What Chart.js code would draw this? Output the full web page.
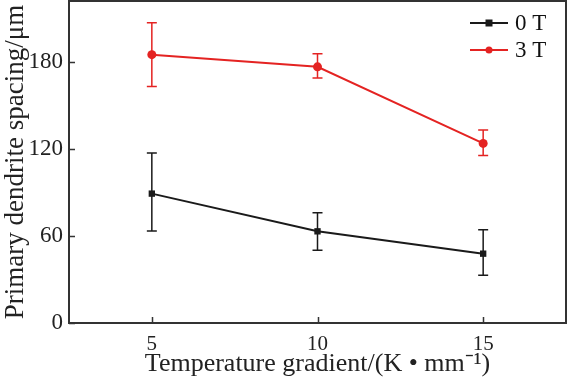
<!DOCTYPE html>
<html><head><meta charset="utf-8">
<script src="https://cdn.jsdelivr.net/npm/chart.js@4.4.1/dist/chart.umd.min.js"></script>
<style>html,body{margin:0;padding:0;background:#fff}#wrap{width:568px;height:380px}</style>
</head><body><div id="wrap"><canvas id="c" width="568" height="380"></canvas></div>
<script>
const gradients = [5, 10, 15];
const seriesLabels = ['0 T', '3 T'];
const spacing0T = [89.2, 63.2, 47.8];
const err0TUpper = [117.2, 76, 64.3];
const err0TLower = [63.4, 50.1, 33];
const spacing3T = [185, 176.6, 123.8];
const err3TUpper = [207, 185.6, 133];
const err3TLower = [163, 168.9, 115.5];
const xTicks = [5, 10, 15];
const yTicks = [0, 60, 120, 180];

const RED = '#e42322';
const BLACK = '#1a1a1a';
const AXIS = '#333333';
const FONT = '"Liberation Serif", "Times New Roman", serif';

const errors = [
  {upper: err0TUpper, lower: err0TLower},
  {upper: err3TUpper, lower: err3TLower}
];

const decor = {
  id: 'decor',
  beforeDatasetsDraw(chart) {
    const ctx = chart.ctx;
    const xs = chart.scales.x, ys = chart.scales.y;
    chart.data.datasets.forEach((ds, i) => {
      const e = errors[i];
      ctx.save();
      ctx.strokeStyle = ds.borderColor;
      ctx.lineWidth = 1.5;
      gradients.forEach((g, j) => {
        const px = xs.getPixelForValue(g);
        const yt = ys.getPixelForValue(e.upper[j]);
        const yb = ys.getPixelForValue(e.lower[j]);
        ctx.beginPath();
        ctx.moveTo(px, yt); ctx.lineTo(px, yb);
        ctx.moveTo(px - 5, yt); ctx.lineTo(px + 5, yt);
        ctx.moveTo(px - 5, yb); ctx.lineTo(px + 5, yb);
        ctx.stroke();
      });
      ctx.restore();
    });
  },
  afterDraw(chart) {
    const ctx = chart.ctx;
    const a = chart.chartArea;
    const xs = chart.scales.x, ys = chart.scales.y;
    ctx.save();
    ctx.strokeStyle = AXIS;
    ctx.lineWidth = 2;
    ctx.strokeRect(a.left, a.top, a.right - a.left, a.bottom - a.top);
    ctx.lineWidth = 1.5;
    ctx.beginPath();
    xTicks.forEach(t => {
      const px = Math.round(xs.getPixelForValue(t)) + 0.5;
      ctx.moveTo(px, a.bottom); ctx.lineTo(px, a.bottom - 6);
    });
    yTicks.forEach(t => {
      const py = Math.round(ys.getPixelForValue(t)) + 0.5;
      ctx.moveTo(a.left, py); ctx.lineTo(a.left + 6, py);
    });
    ctx.stroke();
    // legend
    const ly = [23, 50];
    chart.data.datasets.forEach((ds, i) => {
      const y = ly[i];
      ctx.strokeStyle = ds.borderColor;
      ctx.fillStyle = ds.borderColor;
      ctx.lineWidth = 2;
      ctx.beginPath(); ctx.moveTo(470, y); ctx.lineTo(508, y); ctx.stroke();
      if (ds.pointStyle === 'rect') {
        ctx.fillRect(489 - 3.5, y - 3.5, 7, 7);
      } else {
        ctx.beginPath(); ctx.arc(489, y, 3.5, 0, Math.PI * 2); ctx.fill();
      }
      ctx.fillStyle = '#111';
      ctx.font = '23px ' + FONT;
      ctx.textBaseline = 'middle';
      ctx.textAlign = 'left';
      ctx.fillText(ds.label, 515, y + 1);
    });
    ctx.restore();
  }
};

new Chart(document.getElementById('c'), {
  type: 'line',
  data: {
    datasets: [
      {label: seriesLabels[0], data: gradients.map((g, i) => ({x: g, y: spacing0T[i]})),
       borderColor: BLACK, backgroundColor: BLACK, borderWidth: 2, pointStyle: 'rect',
       pointRadius: 4.5, pointBorderWidth: 0, tension: 0},
      {label: seriesLabels[1], data: gradients.map((g, i) => ({x: g, y: spacing3T[i]})),
       borderColor: RED, backgroundColor: RED, borderWidth: 2, pointStyle: 'circle',
       pointRadius: 4.5, pointBorderWidth: 0, tension: 0}
    ]
  },
  options: {
    responsive: false,
    animation: false,
    devicePixelRatio: 1,
    layout: {autoPadding: false, padding: {top: 1, right: 2, left: 0, bottom: 0}},
    plugins: {legend: {display: false}, tooltip: {enabled: false}},
    scales: {
      x: {
        type: 'linear', min: 2.5, max: 17.5,
        afterBuildTicks: s => { s.ticks = xTicks.map(v => ({value: v})); },
        afterFit: s => { s.height = 57; s.paddingLeft = 0; s.paddingRight = 0; },
        grid: {display: false, drawTicks: false},
        border: {display: false},
        ticks: {color: '#222', padding: 9, font: {family: FONT, size: 21}},
        title: {display: true, text: 'Temperature gradient/(K • mm⁻¹)', color: '#222',
                font: {family: FONT, size: 26}, padding: {top: 0, bottom: 0}}
      },
      y: {
        type: 'linear', min: 0, max: 222,
        afterBuildTicks: s => { s.ticks = yTicks.map(v => ({value: v})); },
        afterFit: s => { s.width = 69; s.paddingTop = 0; s.paddingBottom = 0; },
        grid: {display: false, drawTicks: false},
        border: {display: false},
        ticks: {color: '#222', padding: 6, font: {family: FONT, size: 23}},
        title: {display: true, text: 'Primary dendrite spacing/μm', color: '#222',
                font: {family: FONT, size: 27}, padding: {top: 0, bottom: 0}}
      }
    }
  },
  plugins: [decor]
});
</script></body></html>
